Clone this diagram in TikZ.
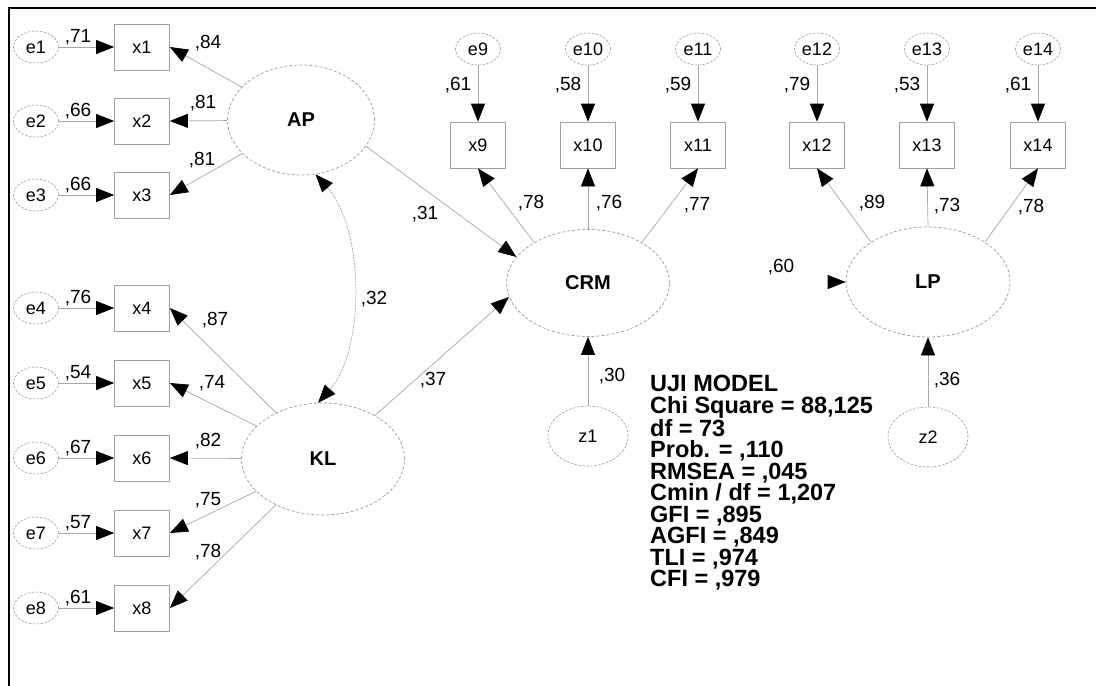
\documentclass[tikz,border=0pt]{standalone}
\usepackage{fontspec}
\setmainfont{Liberation Sans}
\usetikzlibrary{arrows.meta,shapes.geometric,calc}
\begin{document}
\begin{tikzpicture}[x=1pt,y=-1pt,
  obs/.style={rectangle,draw=gray!75,line width=0.7pt,minimum width=55pt,minimum height=46pt,inner sep=0pt,font=\fontsize{18}{20}\selectfont},
  err/.style={ellipse,draw=gray!80,dash pattern=on 2.5pt off 1.5pt,line width=0.6pt,minimum width=45pt,minimum height=32pt,inner sep=0pt,font=\fontsize{18}{20}\selectfont},
  lat/.style={ellipse,draw=gray!80,dash pattern=on 3pt off 2pt,line width=0.7pt,inner sep=0pt,font=\fontsize{20}{22}\selectfont\bfseries},
  res/.style={ellipse,draw=gray!80,dash pattern=on 2.5pt off 1.5pt,line width=0.6pt,minimum width=80pt,minimum height=60pt,inner sep=0pt,font=\fontsize{18}{20}\selectfont},
  coef/.style={inner sep=0pt,font=\fontsize{19}{21}\selectfont},
  arr/.style={draw=gray!70,line width=0.7pt,-{Triangle[length=18pt,width=14pt,color=black]}},
  darr/.style={draw=gray!70,line width=0.7pt,dash pattern=on 2pt off 1pt,{Triangle[length=18pt,width=14pt,color=black]}-{Triangle[length=18pt,width=14pt,color=black]}},
]
\useasboundingbox (0,0) rectangle (1096,686);
\draw[line width=2.5pt] (9,686) -- (9,8) -- (1096,8);

% latent variables
\node[lat,minimum width=147pt,minimum height=110pt] (AP) at (301,120) {AP};
\node[lat,minimum width=163pt,minimum height=112pt] (KL) at (323,459) {KL};
\node[lat,minimum width=163pt,minimum height=107pt] (CRM) at (588,283) {CRM};
\node[lat,minimum width=164pt,minimum height=110pt] (LP) at (928,282) {LP};
\node[res] (z1) at (588,436) {z1};
\node[res] (z2) at (928,437) {z2};

% left indicators
\foreach \i/\y/\lab in {1/47/71,2/121/66,3/195/66,4/308/76,5/383/54,6/458/67,7/533/57,8/608/61}{
  \node[err] (e\i) at (36,\y) {e\i};
  \node[obs] (x\i) at (142,\y) {x\i};
  \draw[arr] (e\i) -- (x\i);
  \node[coef] (le\i) at (78,\y-10) {,\lab};
}
% top indicators
\foreach \i/\x/\lab in {9/478/61,10/588/58,11/698/59,12/817/79,13/927/53,14/1038/61}{
  \node[err] (e\i) at (\x,49) {e\i};
  \node[obs] (x\i) at (\x,145) {x\i};
  \draw[arr] (e\i) -- (x\i);
  \node[coef] (le\i) at (\x-20,85) {,\lab};
}

% loadings AP
\draw[arr] (AP) -- (x1.east);
\draw[arr] (AP) -- (x2.east);
\draw[arr] (AP) -- (x3.east);
\node[coef] (l1) at (208,43) {,84};
\node[coef] (l2) at (203,103) {,81};
\node[coef] (l3) at (202,160) {,81};
% loadings KL
\draw[arr] (KL) -- (x4.east);
\draw[arr] (KL) -- (x5.east);
\draw[arr] (KL) -- (x6.east);
\draw[arr] (KL) -- (x7.east);
\draw[arr] (KL) -- (x8.east);
\node[coef] (l4) at (215,320) {,87};
\node[coef] (l5) at (212,383) {,74};
\node[coef] (l6) at (208,441) {,82};
\node[coef] (l7) at (208,500) {,75};
\node[coef] (l8) at (208,552) {,78};
% loadings CRM
\draw[arr] (CRM.143) -- (x9.south);
\draw[arr] (CRM.north) -- (x10.south);
\draw[arr] (CRM.37) -- (x11.south);
\node[coef] (l9) at (531,203) {,78};
\node[coef] (l10) at (609,203) {,76};
\node[coef] (l11) at (697,205) {,77};
% loadings LP
\draw[arr] (LP.145) -- (x12.south);
\draw[arr] (LP.north) -- (x13.south);
\draw[arr] (LP.35) -- (x14.south);
\node[coef] (l12) at (872,203) {,89};
\node[coef] (l13) at (947,206) {,73};
\node[coef] (l14) at (1031,207) {,78};

% structural paths
\draw[arr] (AP.-22) -- (CRM.160);
\node[coef] (p1) at (425,214) {,31};
\draw[arr] (KL.40) -- (CRM.190);
\node[coef] (p2) at (433,380) {,37};
\draw[darr] (AP.-75) .. controls (365,230) and (365,350) .. (KL.95);
\node[coef] (p3) at (374,299) {,32};
\draw[arr] (z1) -- (CRM);
\node[coef] (p4) at (612,376) {,30};
\draw[arr] (z2) -- (LP);
\node[coef] (p5) at (947,380) {,36};
\coordinate (lpin) at (828,282);
\draw[arr] (lpin) -- (LP.west);
\node[coef] (p6) at (781,267) {,60};

% fit statistics
\node[anchor=north west,inner sep=0pt,align=left,font=\fontsize{23.5}{21.5}\selectfont\bfseries] (stats) at (650,375)
 {UJI MODEL\\Chi Square = 88,125\\df = 73\\Prob. = ,110\\RMSEA = ,045\\Cmin / df = 1,207\\GFI = ,895\\AGFI = ,849\\TLI = ,974\\CFI = ,979};
\end{tikzpicture}
\end{document}
